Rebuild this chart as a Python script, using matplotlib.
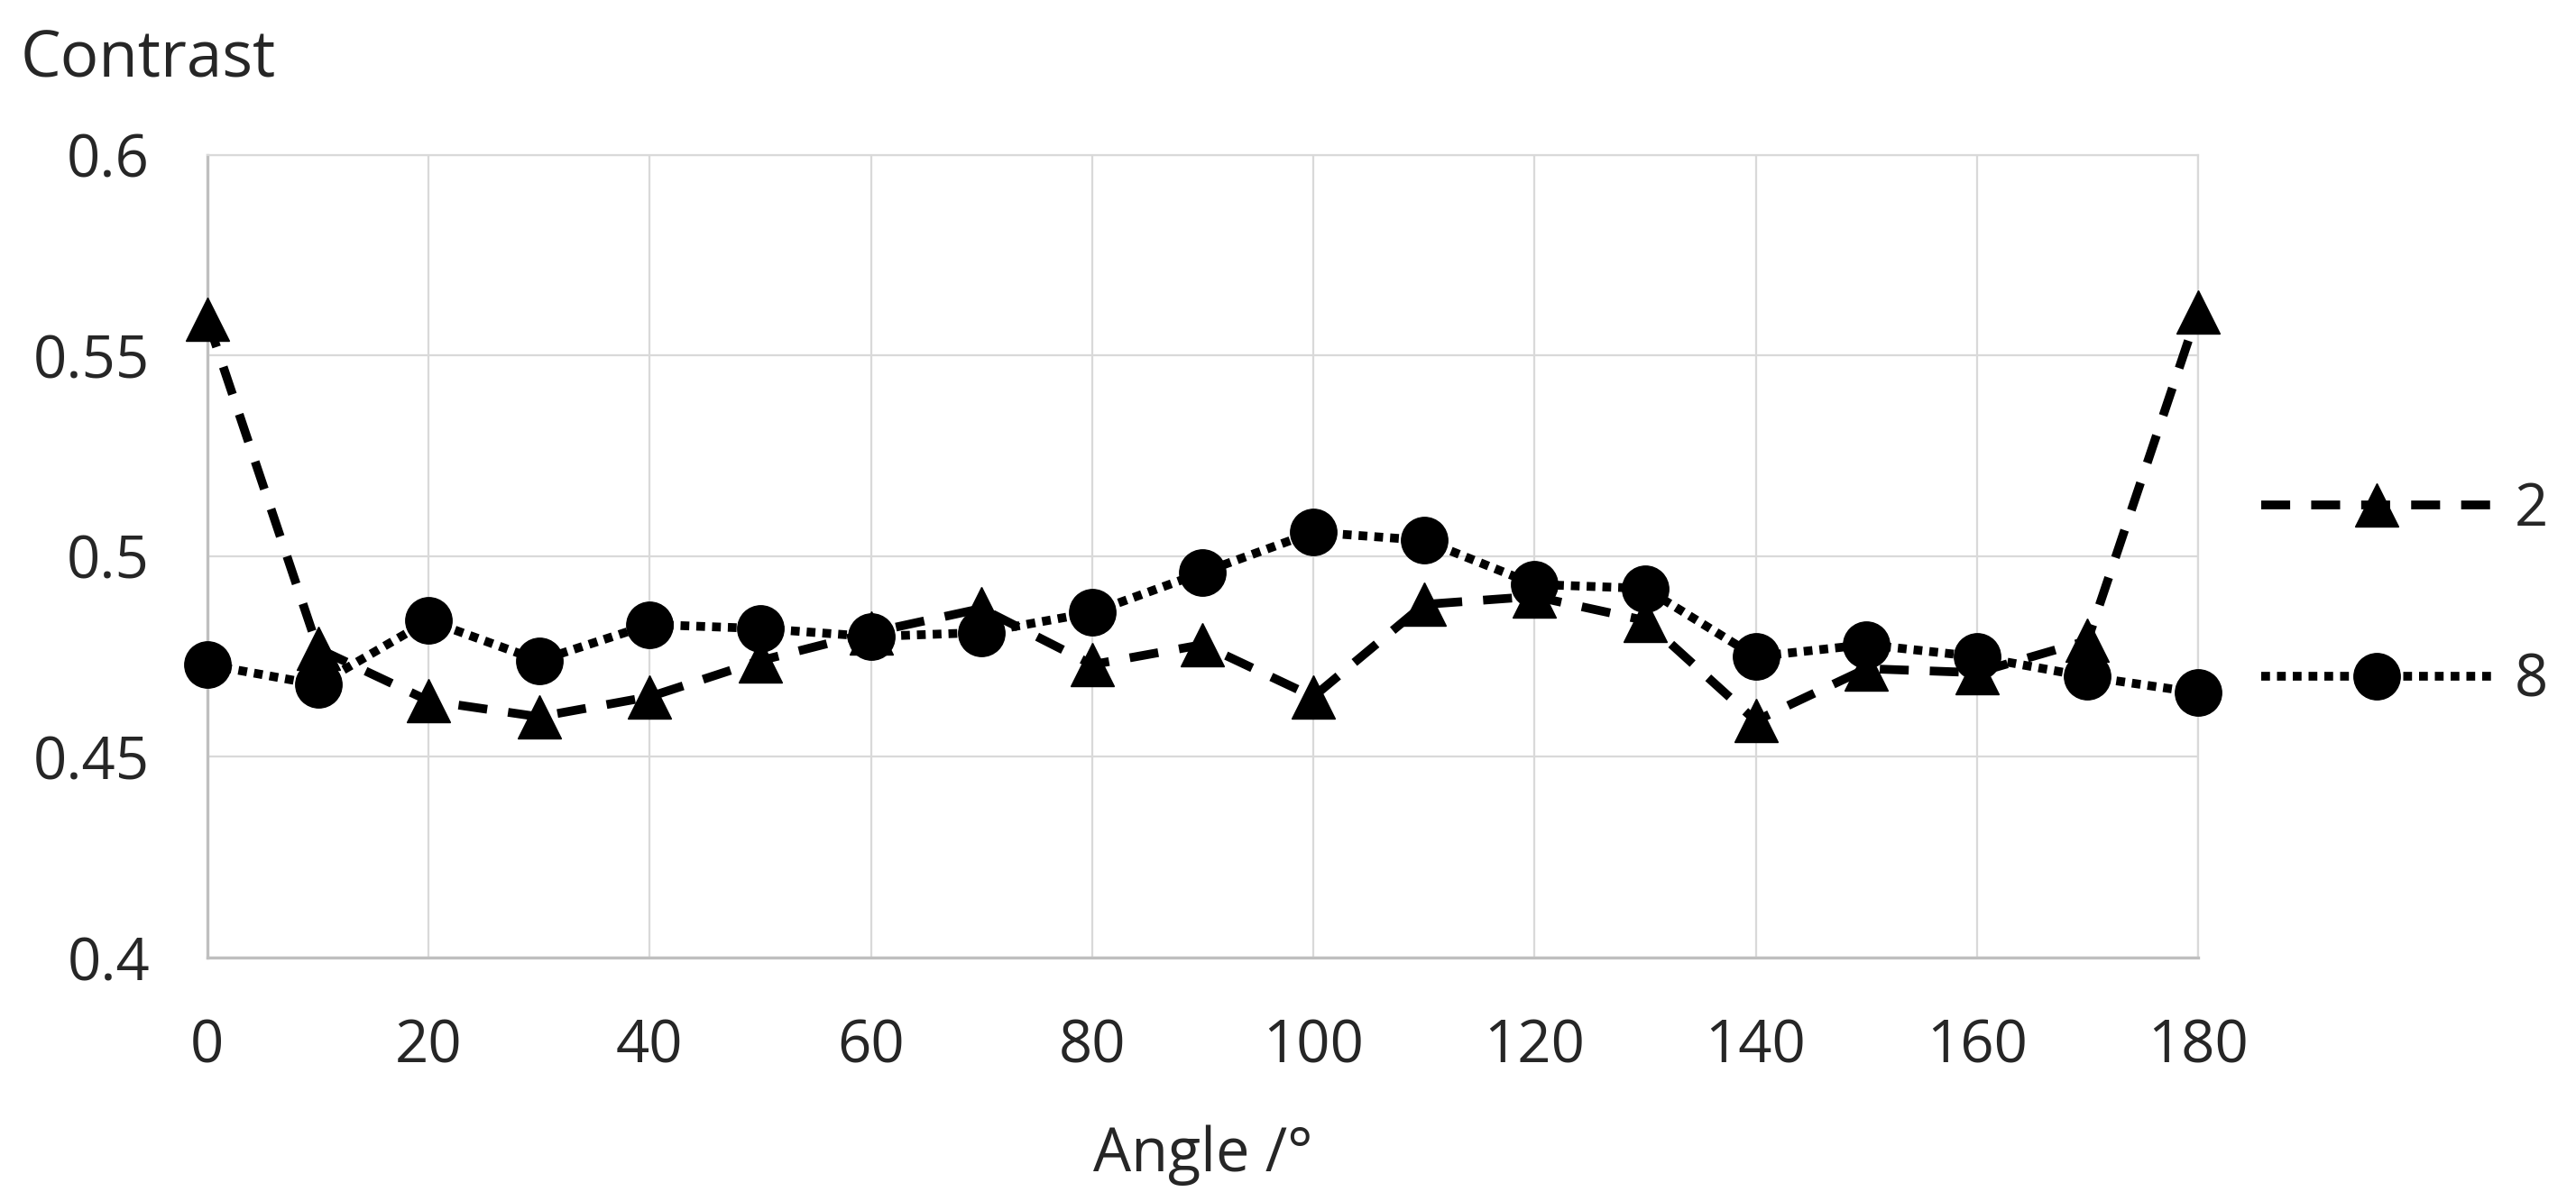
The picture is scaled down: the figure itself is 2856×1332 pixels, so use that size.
import numpy as np
import matplotlib.pyplot as plt

plt.rcParams['font.family'] = ['Open Sans', 'DejaVu Sans']

angles = [0, 10, 20, 30, 40, 50, 60, 70, 80, 90, 100, 110, 120, 130, 140, 150, 160, 170, 180]
contrast_2 = [0.559, 0.477, 0.464, 0.460, 0.465, 0.474, 0.481, 0.487, 0.473, 0.478,
              0.465, 0.488, 0.490, 0.484, 0.459, 0.472, 0.471, 0.479, 0.561]
contrast_8 = [0.473, 0.468, 0.484, 0.474, 0.483, 0.482, 0.480, 0.481, 0.486, 0.496,
              0.506, 0.504, 0.493, 0.492, 0.475, 0.478, 0.475, 0.470, 0.466]
x_ticks = [0, 20, 40, 60, 80, 100, 120, 140, 160, 180]
y_ticks = [0.4, 0.45, 0.5, 0.55, 0.6]
y_tick_labels = ['0.4', '0.45', '0.5', '0.55', '0.6']

fig = plt.figure(figsize=(28.56, 13.32), dpi=100)
ax = fig.add_axes([0.0805, 0.2027, 0.7728, 0.6682])

ax.plot(angles, contrast_2, color='black', lw=7, linestyle=(0, (3.3, 2.4)),
        marker='^', markersize=34, label='2', clip_on=False, zorder=3)
ax.plot(angles, contrast_8, color='black', lw=7, linestyle=(0, (1, 0.8)),
        marker='o', markersize=37, label='8', clip_on=False, zorder=3)

ax.set_xlim(0, 180)
ax.set_ylim(0.4, 0.6)
ax.set_xticks(x_ticks)
ax.set_yticks(y_ticks)
ax.set_yticklabels(y_tick_labels)
ax.tick_params(length=0, labelsize=47, colors='#262626')
ax.tick_params(axis='x', pad=48)
ax.tick_params(axis='y', pad=46)
ax.grid(True, color='#d9d9d9', lw=1.6)
ax.set_axisbelow(True)

for side in ['left', 'bottom']:
    ax.spines[side].set_color('#bfbfbf')
    ax.spines[side].set_linewidth(2.4)
for side in ['top', 'right']:
    ax.spines[side].set_color('#d9d9d9')
    ax.spines[side].set_linewidth(1.6)

ax.set_xlabel('Angle /°', fontsize=48, color='#262626', labelpad=38)
fig.text(0.008, 0.936, 'Contrast', fontsize=51, color='#262626', va='baseline')

fig.legend(loc='center left', bbox_to_anchor=(0.8665, 0.504), frameon=False,
           fontsize=47, handlelength=3.9, handletextpad=0.4, labelspacing=1.9,
           borderpad=0, labelcolor='#262626')

fig.savefig('out.png', dpi=100)
